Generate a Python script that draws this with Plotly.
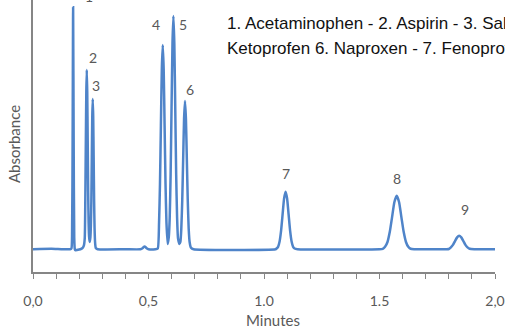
import plotly.graph_objects as go

# Chromatogram trace (minutes, relative absorbance)
time_min = [
    0.000, 0.080, 0.160, 0.1665, 0.169, 0.1715, 0.1737, 0.176, 0.1785, 0.181, 0.183, 0.190, 0.205,
    0.215, 0.220, 0.224, 0.2268, 0.2288, 0.2308, 0.2328, 0.2348, 0.2368, 0.2388, 0.2408, 0.2430,
    0.2457, 0.2485, 0.2506, 0.2526, 0.2546, 0.2566, 0.2586, 0.2606, 0.2626, 0.2646, 0.2666, 0.2690,
    0.2720, 0.280, 0.400, 0.465, 0.474, 0.479, 0.483, 0.487, 0.492, 0.500,
    0.530, 0.540, 0.5457, 0.5497, 0.5537, 0.5577, 0.5617, 0.5657, 0.5697, 0.5737, 0.5777, 0.5830,
    0.5878, 0.5918, 0.5958, 0.5998, 0.6038, 0.6078, 0.6118, 0.6158, 0.6198, 0.6238, 0.6278, 0.6336,
    0.6380, 0.6420, 0.6460, 0.6500, 0.6540, 0.6580, 0.6620, 0.6660, 0.6700, 0.6740, 0.6780, 0.6840,
    0.695, 1.050, 1.0545, 1.0610, 1.0675, 1.0740, 1.0805, 1.0870, 1.0935, 1.1000, 1.1065, 1.1130,
    1.1195, 1.1260, 1.1325, 1.145, 1.500, 1.514, 1.524, 1.5346, 1.5446, 1.5546, 1.5646, 1.5746,
    1.5846, 1.5946, 1.6046, 1.6146, 1.6246, 1.6346, 1.650, 1.790, 1.800, 1.809, 1.818, 1.827, 1.836,
    1.8448, 1.854, 1.863, 1.872, 1.881, 1.890, 1.910, 2.000,
]
absorbance = [
    0.000, 0.002, 0.000, 0.004, 0.050, 0.450, 1.000, 0.450, 0.050, 0.000, -0.004, -0.003, 0.000,
    0.006, 0.015, 0.045, 0.240, 0.450, 0.650, 0.741, 0.650, 0.450, 0.240, 0.110, 0.050,
    0.030, 0.050, 0.100, 0.200, 0.380, 0.550, 0.621, 0.550, 0.380, 0.200, 0.085, 0.025,
    0.005, 0.000, 0.000, 0.000, 0.004, 0.009, 0.011, 0.009, 0.004, 0.000,
    0.000, 0.003, 0.110, 0.270, 0.510, 0.745, 0.844, 0.745, 0.510, 0.270, 0.110, 0.022,
    0.050, 0.130, 0.310, 0.585, 0.850, 0.964, 0.850, 0.585, 0.310, 0.130, 0.045, 0.022,
    0.030, 0.085, 0.200, 0.370, 0.540, 0.613, 0.540, 0.370, 0.200, 0.085, 0.030, 0.006,
    0.000, 0.000, 0.003, 0.010, 0.032, 0.077, 0.144, 0.210, 0.238, 0.210, 0.144, 0.077,
    0.032, 0.010, 0.003, 0.000, 0.000, 0.002, 0.010, 0.030, 0.072, 0.134, 0.195, 0.221,
    0.195, 0.134, 0.072, 0.030, 0.010, 0.002, 0.000, 0.000, 0.001, 0.008, 0.018, 0.034, 0.049,
    0.056, 0.049, 0.034, 0.018, 0.008, 0.002, 0.000, 0.000,
]

peak_labels = ["1", "2", "3", "4", "5", "6", "7", "8", "9"]
label_t = [0.2414, 0.260, 0.2716, 0.5332, 0.6509, 0.6797, 1.0935, 1.5746, 1.869]
label_y = [1.022, 0.793, 0.676, 0.927, 0.927, 0.661, 0.314, 0.293, 0.165]

tick_vals = [0.0, 0.5, 1.0, 1.5, 2.0]
tick_text = ["0,0", "0,5", "1.0", "1.5", "2,0"]

legend_lines = [
    "1. Acetaminophen - 2. Aspirin - 3. Salicylic acid",
    "Ketoprofen 6. Naproxen - 7. Fenoprofen",
]

LABEL_FONT = "Lato, 'Open Sans', sans-serif"
GRAY = "#595959"
AXIS_GRAY = "#868686"
Y_TOP = 1.030

fig = go.Figure()
fig.add_trace(go.Scatter(
    x=time_min, y=absorbance, mode="lines",
    line=dict(color="#4F84C9", width=2.5, shape="spline", smoothing=0.5),
    hoverinfo="skip", showlegend=False,
))

annotations = []
for txt, t, v in zip(peak_labels, label_t, label_y):
    if v > Y_TOP - 0.02:
        # label sits at the very top edge, partly cut off as in the reference
        annotations.append(dict(x=t, y=1.0, xref="x", yref="paper", text=txt, showarrow=False,
                                font=dict(family=LABEL_FONT, size=14, color=GRAY),
                                xanchor="center", yanchor="middle", yshift=4))
    else:
        annotations.append(dict(x=t, y=v, xref="x", yref="y", text=txt, showarrow=False,
                                font=dict(family=LABEL_FONT, size=14, color=GRAY),
                                xanchor="center", yanchor="middle"))

annotations.append(dict(x=(274 - 33) / 464, y=(272 - 320) / 272, xref="paper", yref="paper",
                        text="Minutes", showarrow=False,
                        font=dict(family=LABEL_FONT, size=15, color=GRAY),
                        xanchor="center", yanchor="middle"))
annotations.append(dict(x=(14 - 33) / 464, y=(272 - 144) / 272, xref="paper", yref="paper",
                        text="Absorbance", showarrow=False, textangle=-90,
                        font=dict(family=LABEL_FONT, size=15, color=GRAY),
                        xanchor="center", yanchor="middle"))
for i, line in enumerate(legend_lines):
    annotations.append(dict(x=(226 - 33) / 464, y=(272 - (23 + 25 * i)) / 272,
                            xref="paper", yref="paper", text=line, showarrow=False,
                            font=dict(family="'Liberation Sans Narrow', 'Arial Narrow', 'Liberation Sans', Arial, sans-serif",
                                      size=17, color="#111111"),
                            xanchor="left", yanchor="middle"))

fig.update_layout(
    width=505, height=329,
    margin=dict(l=33, r=8, t=0, b=57),
    paper_bgcolor="white", plot_bgcolor="white",
    annotations=annotations,
    xaxis=dict(range=[0, 2.0], tickvals=tick_vals, ticktext=tick_text,
               showgrid=False, zeroline=False, showline=True, linecolor=AXIS_GRAY, linewidth=1.5,
               ticks="outside", ticklen=5, tickcolor=AXIS_GRAY, tickwidth=1,
               ticklabelstandoff=10, ticklabeloverflow="allow",
               tickfont=dict(family=LABEL_FONT, size=14, color=GRAY),
               minor=dict(dtick=0.1, tick0=0, ticks="outside", ticklen=5, tickcolor=AXIS_GRAY, tickwidth=1)),
    yaxis=dict(range=[-0.094, Y_TOP], showgrid=False, zeroline=False, showline=True,
               linecolor=AXIS_GRAY, linewidth=1.5, showticklabels=False, ticks=""),
)

fig.write_html("out.html")
